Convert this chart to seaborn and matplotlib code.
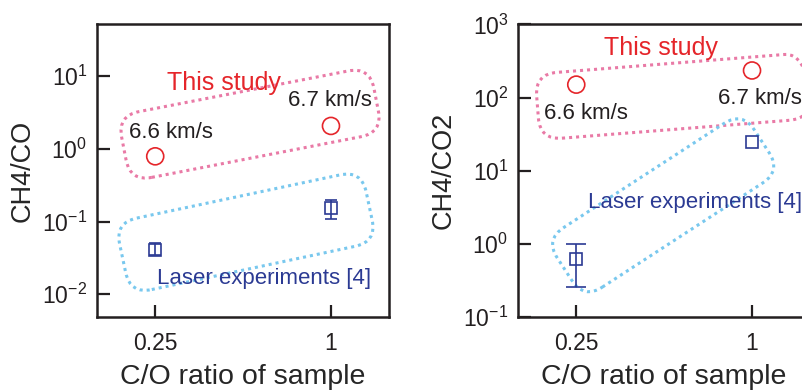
import numpy as np
import matplotlib.pyplot as plt
import seaborn as sns
from matplotlib.patches import FancyBboxPatch
from matplotlib.transforms import Affine2D
from matplotlib.ticker import NullLocator

# x positions: C/O ratio of the sample
co_ratio = [0.25, 1.0]
co_ticks = ['0.25', '1']
velocity_labels = ['6.6 km/s', '6.7 km/s']

# CH4/CO panel
study_ch4_co = [0.79, 2.07]
laser_ch4_co = [0.041, 0.156]
laser_ch4_co_low = [0.035, 0.11]
laser_ch4_co_high = [0.050, 0.20]

# CH4/CO2 panel
study_ch4_co2 = [150, 234]
laser_ch4_co2 = [0.62, 24.7]
laser_ch4_co2_low = [0.255, np.nan]
laser_ch4_co2_high = [1.0, np.nan]

RED = '#e5252a'
NAVY = '#2b3a93'
PINK = '#e97aa6'
SKY = '#79c8ee'
INK = '#231f20'

sns.set_theme(style='ticks')
plt.rcParams['font.family'] = ['Liberation Sans', 'DejaVu Sans']
plt.rcParams['mathtext.default'] = 'regular'
plt.rcParams['text.color'] = INK


def rounded_box(ax, center, length, thick, angle, color):
    # dotted rounded outline, sized in pixels and rotated on screen
    cx, cy = ax.transAxes.transform(center)
    box = FancyBboxPatch((-length / 2, -thick / 2), length, thick,
                         boxstyle='round,pad=0,rounding_size=22',
                         fill=False, ec=color, lw=2.2, ls=(0, (1, 1.3)),
                         transform=Affine2D().rotate_deg(angle).translate(cx, cy),
                         clip_on=False, zorder=1)
    ax.add_patch(box)


def draw_panel(ax, study, laser, low, high, capsize, ylim, yticks, ylabels, ylabel):
    sns.scatterplot(x=co_ratio, y=study, ax=ax, marker='o', s=150,
                    fc='none', ec=RED, linewidth=1.2, zorder=3)
    laser = np.array(laser)
    err = [laser - np.array(low), np.array(high) - laser]
    ax.errorbar(co_ratio, laser, yerr=err, fmt='s', ms=9, mfc='none', mec=NAVY,
                mew=1.2, ecolor=NAVY, elinewidth=1.2, capsize=capsize, capthick=1.2,
                zorder=3)
    ax.set_xscale('log')
    ax.set_yscale('log')
    ax.set_xlim(0.158, 1.58)
    ax.set_ylim(*ylim)
    ax.set_xticks(co_ratio, co_ticks)
    ax.set_yticks(yticks, ylabels)
    ax.xaxis.set_minor_locator(NullLocator())
    ax.yaxis.set_minor_locator(NullLocator())
    ax.tick_params(direction='in', length=9, width=1.6, labelsize=16.5, colors=INK,
                   top=False, right=False)
    ax.tick_params(axis='y', pad=7)
    ax.tick_params(axis='x', pad=11)
    for s in ax.spines.values():
        s.set_visible(True)
        s.set_linewidth(1.8)
        s.set_color(INK)
    ax.set_xlabel('C/O ratio of sample', fontsize=20.5, labelpad=6)
    ax.set_ylabel(ylabel, fontsize=19.5, labelpad=5)


fig = plt.figure(figsize=(8.02, 3.92), dpi=100)
ax1 = fig.add_axes([0.121, 0.191, 0.364, 0.747])
ax2 = fig.add_axes([0.646, 0.191, 0.364, 0.747])

draw_panel(ax1, study_ch4_co, laser_ch4_co, laser_ch4_co_low, laser_ch4_co_high, 4.5,
           (10 ** -2.316, 10 ** 1.715), [0.01, 0.1, 1, 10],
           ['$10^{-2}$', '$10^{-1}$', '$10^{0}$', '$10^{1}$'], 'CH4/CO')
draw_panel(ax2, study_ch4_co2, laser_ch4_co2, laser_ch4_co2_low, laser_ch4_co2_high, 7,
           (0.1, 1000), [0.1, 1, 10, 100, 1000],
           ['$10^{-1}$', '$10^{0}$', '$10^{1}$', '$10^{2}$', '$10^{3}$'], 'CH4/CO2')

# group outlines
rounded_box(ax1, (0.524, 0.659), 257, 67, 11, PINK)
rounded_box(ax1, (0.510, 0.290), 252, 73, 12, SKY)
rounded_box(ax2, (0.531, 0.754), 272, 66, 4.5, PINK)
rounded_box(ax2, (0.497, 0.382), 235, 71, 33, SKY)

# annotations
ax1.text(0.435, 0.799, 'This study', color=RED, fontsize=18, ha='center', va='center', transform=ax1.transAxes)
ax1.text(0.253, 0.631, velocity_labels[0], fontsize=16, ha='center', va='center', transform=ax1.transAxes)
ax1.text(0.798, 0.741, velocity_labels[1], fontsize=16, ha='center', va='center', transform=ax1.transAxes)
ax1.text(0.572, 0.133, 'Laser experiments [4]', color=NAVY, fontsize=16, ha='center', va='center', transform=ax1.transAxes)

ax2.text(0.490, 0.918, 'This study', color=RED, fontsize=18, ha='center', va='center', transform=ax2.transAxes)
ax2.text(0.233, 0.696, velocity_labels[0], fontsize=16, ha='center', va='center', transform=ax2.transAxes)
ax2.text(0.685, 0.747, velocity_labels[1], fontsize=16, ha='left', va='center', transform=ax2.transAxes, clip_on=False)
ax2.text(0.240, 0.392, 'Laser experiments [4]', color=NAVY, fontsize=16, ha='left', va='center', transform=ax2.transAxes)

fig.savefig('out.png', dpi=100)
